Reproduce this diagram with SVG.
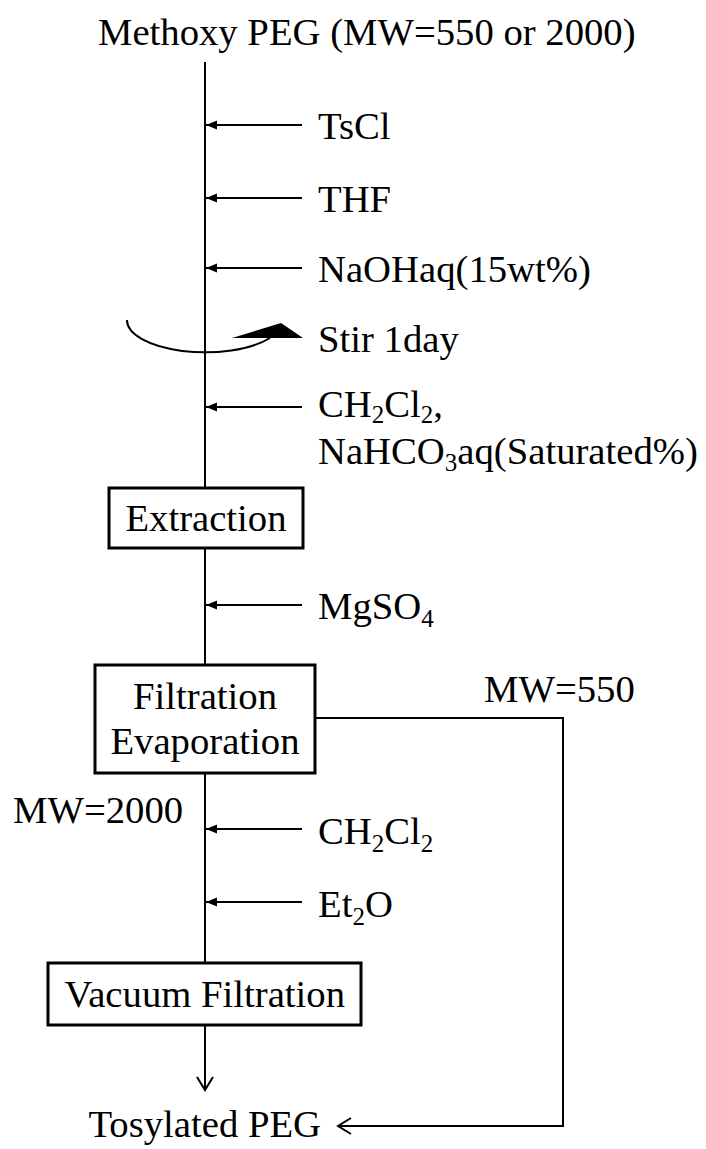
<svg xmlns="http://www.w3.org/2000/svg" width="706" height="1149" viewBox="0 0 706 1149">
<style>
text{font-family:"Liberation Serif","Times New Roman",serif;font-size:38.7px;fill:#000}
.ln{stroke:#000;stroke-width:2;fill:none}
.box{stroke:#000;stroke-width:3;fill:#fff}
.sub{font-size:25px}
</style>
<defs>
<marker id="fa" markerWidth="12" markerHeight="10" refX="11" refY="5" orient="auto" markerUnits="userSpaceOnUse">
<path d="M0,0.5 L11,5 L0,9.5 Z" fill="#000"/>
</marker>
<marker id="oa" markerWidth="16" markerHeight="18" refX="14" refY="9" orient="auto" markerUnits="userSpaceOnUse">
<path d="M1,1 L14,9 L1,17" fill="none" stroke="#000" stroke-width="2"/>
</marker>
</defs>
<g id="connectors">
<line class="ln" x1="205" y1="62" x2="205" y2="488"/>
<line class="ln" x1="205" y1="548" x2="205" y2="665"/>
<line class="ln" x1="205" y1="773" x2="205" y2="963"/>
<line class="ln" x1="205" y1="1025" x2="205" y2="1090" marker-end="url(#oa)"/>
<polyline class="ln" points="315,718 563,718 563,1126 338,1126" marker-end="url(#oa)"/>
<line class="ln" x1="302" y1="125" x2="206" y2="125" marker-end="url(#fa)"/>
<line class="ln" x1="302" y1="198" x2="206" y2="198" marker-end="url(#fa)"/>
<line class="ln" x1="302" y1="268" x2="206" y2="268" marker-end="url(#fa)"/>
<line class="ln" x1="302" y1="407" x2="206" y2="407" marker-end="url(#fa)"/>
<line class="ln" x1="302" y1="605" x2="206" y2="605" marker-end="url(#fa)"/>
<line class="ln" x1="302" y1="829" x2="206" y2="829" marker-end="url(#fa)"/>
<line class="ln" x1="302" y1="902" x2="206" y2="902" marker-end="url(#fa)"/>
<path class="ln" d="M127,320 A78,32 0 0 0 270,338"/>
<polygon points="232,338 281,323 303,338" fill="#000"/>
</g>
<g id="start"><text x="98" y="45">Methoxy PEG (MW=550 or 2000)</text></g>
<g id="tscl"><text x="318" y="139">TsCl</text></g>
<g id="thf"><text x="318" y="212">THF</text></g>
<g id="naoh"><text x="318" y="282">NaOHaq(15wt%)</text></g>
<g id="stir"><text x="318" y="352">Stir 1day</text></g>
<g id="ch2cl2-1"><text x="318" y="417">CH<tspan class="sub" dy="6">2</tspan><tspan dy="-6">Cl</tspan><tspan class="sub" dy="6">2</tspan><tspan dy="-6">,</tspan></text>
<text x="318" y="464">NaHCO<tspan class="sub" dy="7">3</tspan><tspan dy="-7">aq(Saturated%)</tspan></text></g>
<g id="extraction"><rect class="box" x="109" y="488" width="194" height="60"/><text x="206" y="531" text-anchor="middle">Extraction</text></g>
<g id="mgso4"><text x="318" y="619">MgSO<tspan class="sub" dy="8">4</tspan></text></g>
<g id="filtration"><rect class="box" x="95" y="665" width="220" height="108"/><text x="205" y="709" text-anchor="middle">Filtration</text><text x="205" y="754" text-anchor="middle">Evaporation</text></g>
<g id="mw550"><text x="484" y="702">MW=550</text></g>
<g id="mw2000"><text x="13" y="823">MW=2000</text></g>
<g id="ch2cl2-2"><text x="318" y="844">CH<tspan class="sub" dy="8">2</tspan><tspan dy="-8">Cl</tspan><tspan class="sub" dy="8">2</tspan></text></g>
<g id="et2o"><text x="318" y="917">Et<tspan class="sub" dy="8">2</tspan><tspan dy="-8">O</tspan></text></g>
<g id="vacuum"><rect class="box" x="48" y="963" width="313" height="62"/><text x="345" y="1007" text-anchor="end">Vacuum Filtration</text></g>
<g id="product"><text x="321" y="1137" text-anchor="end">Tosylated PEG</text></g>
</svg>
